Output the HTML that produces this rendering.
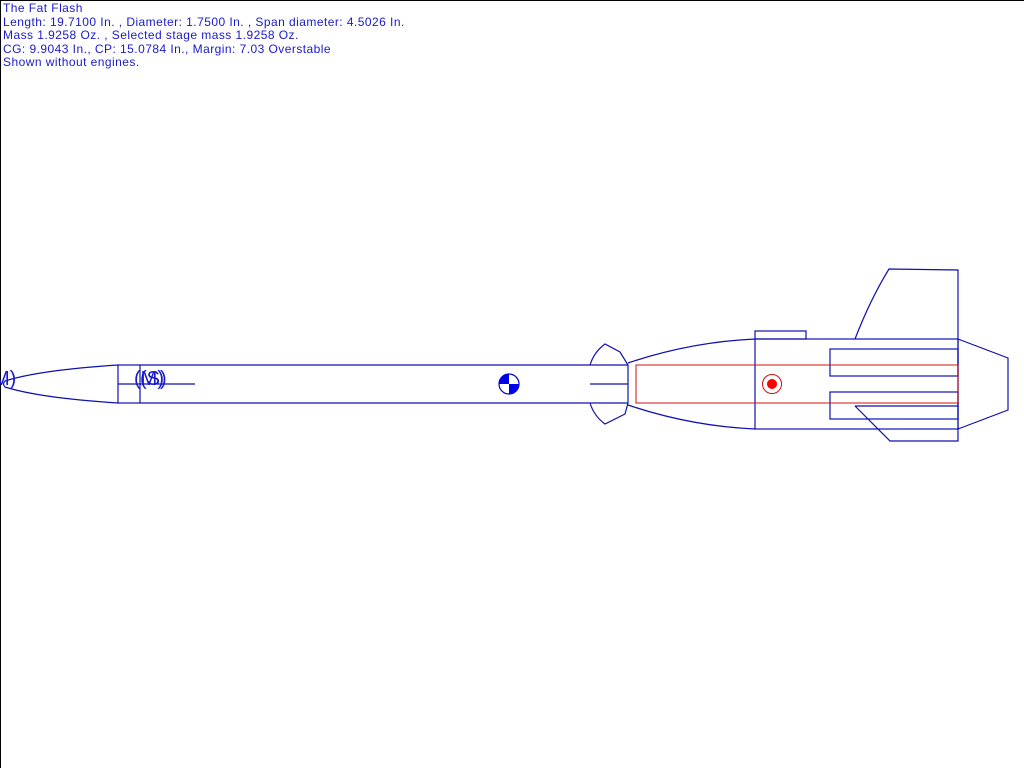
<!DOCTYPE html>
<html><head><style>
html,body{margin:0;padding:0;background:#fff;width:1024px;height:768px;overflow:hidden}
.t{position:absolute;left:3px;top:2px;font:12px/13.5px "Liberation Sans",sans-serif;color:#1a1acc;white-space:pre;letter-spacing:0.45px}
svg{position:absolute;left:0;top:0}
</style></head><body>
<svg width="1024" height="768" viewBox="0 0 1024 768">
<line x1="0.5" y1="0" x2="0.5" y2="768" stroke="#000" stroke-width="1"/>
<line x1="0" y1="0.5" x2="1024" y2="0.5" stroke="#000" stroke-width="1"/>
<g fill="none" stroke="#1010b0" stroke-width="1.2">
<path d="M118,365 Q40,370 5,381 Q2,384 5,387 Q40,398 118,403"/>
<rect x="118" y="365" width="22" height="38"/>
<line x1="118" y1="384" x2="195" y2="384"/>
<line x1="140" y1="365" x2="628" y2="365"/>
<line x1="140" y1="403" x2="628" y2="403"/>
<line x1="590" y1="384" x2="628" y2="384"/>
<path d="M590,365 Q594,352 605,344 L620,352 L628,365 L628,403 L625,414 L605,424 Q594,416 590,403"/>
<path d="M628,363 Q690,342 755,339"/>
<path d="M628,405 Q690,426 755,429"/>
<rect x="755" y="339" width="203" height="90"/>
<rect x="755" y="331" width="51" height="8"/>
<path d="M855,339 Q870,300 889,269 L958,270 L958,441 L890,441 L855,406"/>
<rect x="830" y="349" width="128" height="27"/>
<rect x="830" y="392" width="128" height="27"/>
<line x1="855" y1="406" x2="958" y2="406"/>
<path d="M958,339 L1008,358 L1008,410 L958,429"/>
</g>
<rect x="636" y="365" width="322" height="38" fill="none" stroke="#d01010" stroke-width="1"/>
<circle cx="772" cy="384" r="9.5" fill="#fff" stroke="#d01010" stroke-width="1"/>
<circle cx="772" cy="384" r="5" fill="#ff0000"/>
<circle cx="509" cy="384" r="10" fill="#fff" stroke="#0000cc" stroke-width="1.2"/>
<path d="M509,384 L499,384 A10,10 0 0 1 509,374 Z" fill="#0000ee"/>
<path d="M509,384 L519,384 A10,10 0 0 1 509,394 Z" fill="#0000ee"/>
<g font-family="Liberation Sans, sans-serif" font-size="20" fill="#1a1acc">
<text x="-7" y="385">M)</text>
<text x="134" y="385">(M)</text>
<text x="140" y="385">(S)</text>
</g>
</svg>
<div class="t">The Fat Flash
Length: 19.7100 In. , Diameter: 1.7500 In. , Span diameter: 4.5026 In.
Mass 1.9258 Oz. , Selected stage mass 1.9258 Oz.
CG: 9.9043 In., CP: 15.0784 In., Margin: 7.03 Overstable
Shown without engines.</div>
</body></html>
